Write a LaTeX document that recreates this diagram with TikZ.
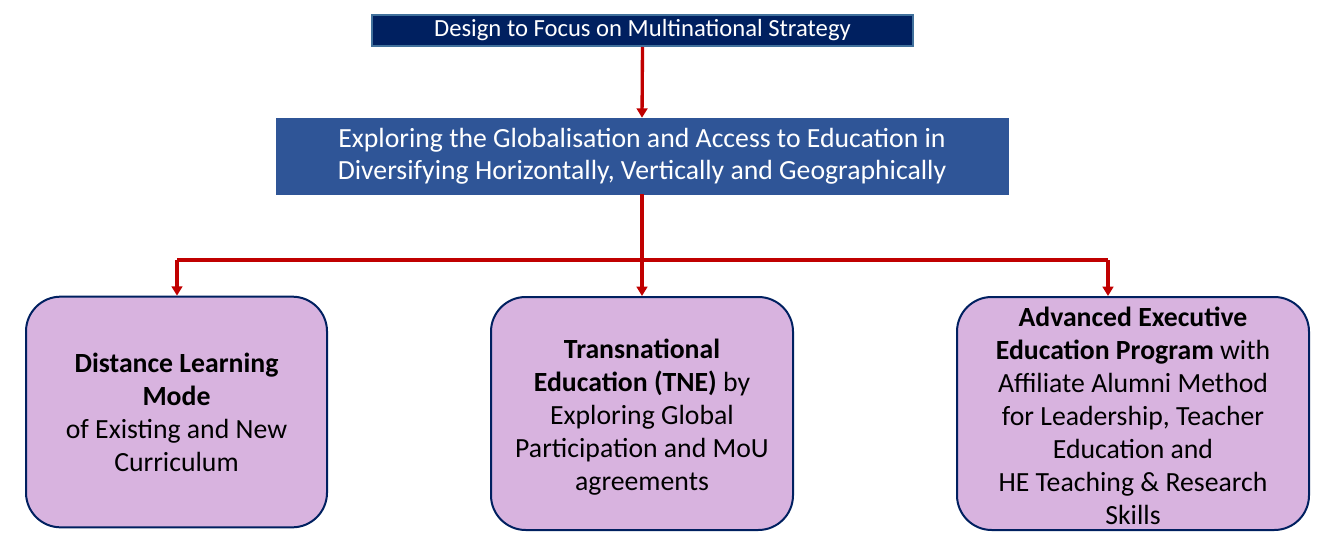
\documentclass[tikz,border=0pt]{standalone}
\usepackage{fontspec}
\setmainfont{Carlito}
\usetikzlibrary{arrows.meta}
\definecolor{navy}{HTML}{002060}
\definecolor{topedge}{HTML}{41719C}
\definecolor{midblue}{HTML}{2F5597}
\definecolor{lilac}{HTML}{D8B3DF}
\definecolor{arrred}{HTML}{C00000}
\tikzset{
  topbox/.style={draw=topedge, line width=1.5pt, fill=navy, text=white, minimum width=405.75pt, minimum height=23.25pt, inner sep=0pt, font=\fontsize{18.5}{20}\selectfont},
  midbox/.style={draw=midblue, fill=midblue, text=white, minimum width=549pt, minimum height=57pt, inner sep=0pt, align=center, font=\fontsize{20.8}{24}\selectfont},
  leafbox/.style={draw=navy, line width=1.5pt, fill=lilac, rounded corners=26pt, minimum height=173pt, inner sep=0pt, align=center, font=\fontsize{20.8}{24.75}\selectfont},
  link/.style={draw=arrred, line width=2.5pt, -{Triangle[width=8pt,length=7pt]}},
  plainlink/.style={draw=arrred, line width=2.5pt},
}
\begin{document}
\begin{tikzpicture}[x=0.75pt,y=-0.75pt]
\useasboundingbox (0,0) rectangle (1320,549);
\node[topbox] (top) at (642.5,30.5) {Design to Focus on Multinational Strategy};
\node[midbox] (mid) at (642,156) {Exploring the Globalisation and Access to Education in\\Diversifying Horizontally, Vertically and Geographically};
\node[leafbox, minimum width=225.75pt] (l1) at (176.5,412) {\textbf{Distance Learning}\\\textbf{Mode}\\of Existing and New\\Curriculum};
\node[leafbox, minimum width=226.5pt, minimum height=174.75pt] (l2) at (642,413.5) {\textbf{Transnational}\\\textbf{Education (TNE)} by\\Exploring Global\\Participation and MoU\\agreements\rule[-3pt]{0pt}{0pt}\vspace*{-6pt}};
\node[leafbox, minimum width=264pt, minimum height=174.75pt] (l3) at (1133,413.5) {\textbf{Advanced Executive}\\\textbf{Education Program} with\\Affiliate Alumni Method\\for Leadership, Teacher\\Education and\\HE Teaching \& Research\\Skills\vspace*{-3pt}};
\coordinate (jl) at (177,260);
\coordinate (jr) at (1108,260);
\draw[link] (top.south) -- (mid.north);
\draw[link] (mid.south) -- (l2.north);
\draw[plainlink] (jl) -- (jr);
\draw[link] (jl) -- (jl |- l1.north);
\draw[link] (jr) -- (jr |- l3.north);
\end{tikzpicture}
\end{document}
